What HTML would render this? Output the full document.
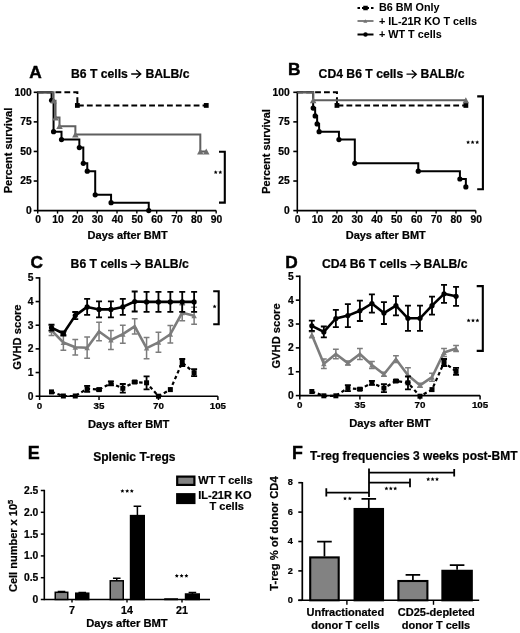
<!DOCTYPE html>
<html><head><meta charset="utf-8"><style>
html,body{margin:0;padding:0;background:#fff;font-family:"Liberation Sans",sans-serif;}
body{width:520px;height:633px;overflow:hidden;}
svg{display:block;will-change:transform;}
</style></head><body>
<svg width="520" height="633" viewBox="0 0 520 633" font-family="Liberation Sans, sans-serif" font-weight="bold" fill="#000">
<style>text{font-family:"Liberation Sans",sans-serif;font-weight:bold;stroke:#000;stroke-width:0.22px;}</style>
<rect width="520" height="633" fill="#fff"/>
<line x1="357.5" y1="8.0" x2="373.5" y2="8.0" stroke="#000" stroke-width="2" stroke-dasharray="2.5,2"/>
<rect x="363.25" y="5.75" width="4.5" height="4.5" fill="#000"/>
<line x1="357.5" y1="21" x2="373.5" y2="21" stroke="#737373" stroke-width="1.8" />
<path d="M363.3,22.8 L367.3,22.8 L365.3,19.2 Z" fill="#737373"/>
<line x1="357.5" y1="34.5" x2="373.5" y2="34.5" stroke="#000" stroke-width="2" />
<circle cx="365.5" cy="34.5" r="2.2" fill="#000"/>
<text x="379" y="11.2" font-size="10.8" text-anchor="start" style="stroke-width:0.05px">B6 BM Only</text>
<text x="379" y="24.9" font-size="10.8" text-anchor="start" style="stroke-width:0.05px">+ IL-21R KO T cells</text>
<text x="379" y="37.6" font-size="10.8" text-anchor="start" style="stroke-width:0.05px">+ WT T cells</text>
<text x="29.2" y="78.2" font-size="17.3" text-anchor="start" style="stroke-width:0.45px">A</text>
<text x="71.0" y="77.7" font-size="12.2" text-anchor="start" >B6 T cells</text>
<path d="M131.2,74.0 H140.4 M136.3,70.0 L140.8,74.0 L136.3,78.0" fill="none" stroke="#000" stroke-width="1.3"/>
<text x="145.4" y="77.7" font-size="12.2" text-anchor="start" >BALB/c</text>
<line x1="37.7" y1="91.6" x2="37.7" y2="211.29999999999998" stroke="#000" stroke-width="1.6" />
<line x1="33.7" y1="92.3" x2="37.7" y2="92.3" stroke="#000" stroke-width="1.6" />
<text x="31.700000000000003" y="95.7" font-size="10.3" text-anchor="end" >100</text>
<line x1="33.7" y1="121.875" x2="37.7" y2="121.875" stroke="#000" stroke-width="1.6" />
<text x="31.700000000000003" y="125.275" font-size="10.3" text-anchor="end" >75</text>
<line x1="33.7" y1="151.45" x2="37.7" y2="151.45" stroke="#000" stroke-width="1.6" />
<text x="31.700000000000003" y="154.85" font-size="10.3" text-anchor="end" >50</text>
<line x1="33.7" y1="181.02499999999998" x2="37.7" y2="181.02499999999998" stroke="#000" stroke-width="1.6" />
<text x="31.700000000000003" y="184.42499999999998" font-size="10.3" text-anchor="end" >25</text>
<line x1="33.7" y1="210.6" x2="37.7" y2="210.6" stroke="#000" stroke-width="1.6" />
<text x="31.700000000000003" y="214.0" font-size="10.3" text-anchor="end" >0</text>
<line x1="37.7" y1="210.6" x2="216.17000000000002" y2="210.6" stroke="#000" stroke-width="1.6" />
<line x1="37.7" y1="210.6" x2="37.7" y2="213.6" stroke="#000" stroke-width="1.4" />
<text x="38.1" y="222.79999999999998" font-size="10.3" text-anchor="middle" >0</text>
<line x1="57.53" y1="210.6" x2="57.53" y2="213.6" stroke="#000" stroke-width="1.4" />
<text x="57.93" y="222.79999999999998" font-size="10.3" text-anchor="middle" >10</text>
<line x1="77.36000000000001" y1="210.6" x2="77.36000000000001" y2="213.6" stroke="#000" stroke-width="1.4" />
<text x="77.76000000000002" y="222.79999999999998" font-size="10.3" text-anchor="middle" >20</text>
<line x1="97.19" y1="210.6" x2="97.19" y2="213.6" stroke="#000" stroke-width="1.4" />
<text x="97.59" y="222.79999999999998" font-size="10.3" text-anchor="middle" >30</text>
<line x1="117.02000000000001" y1="210.6" x2="117.02000000000001" y2="213.6" stroke="#000" stroke-width="1.4" />
<text x="117.42000000000002" y="222.79999999999998" font-size="10.3" text-anchor="middle" >40</text>
<line x1="136.85000000000002" y1="210.6" x2="136.85000000000002" y2="213.6" stroke="#000" stroke-width="1.4" />
<text x="137.25000000000003" y="222.79999999999998" font-size="10.3" text-anchor="middle" >50</text>
<line x1="156.68" y1="210.6" x2="156.68" y2="213.6" stroke="#000" stroke-width="1.4" />
<text x="157.08" y="222.79999999999998" font-size="10.3" text-anchor="middle" >60</text>
<line x1="176.51" y1="210.6" x2="176.51" y2="213.6" stroke="#000" stroke-width="1.4" />
<text x="176.91" y="222.79999999999998" font-size="10.3" text-anchor="middle" >70</text>
<line x1="196.34000000000003" y1="210.6" x2="196.34000000000003" y2="213.6" stroke="#000" stroke-width="1.4" />
<text x="196.74000000000004" y="222.79999999999998" font-size="10.3" text-anchor="middle" >80</text>
<line x1="216.17000000000002" y1="210.6" x2="216.17000000000002" y2="213.6" stroke="#000" stroke-width="1.4" />
<text x="216.57000000000002" y="222.79999999999998" font-size="10.3" text-anchor="middle" >90</text>
<text transform="translate(12.300000000000004,150.5) rotate(-90)" font-size="11.1" text-anchor="middle">Percent survival</text>
<text x="127.63499999999999" y="239.2" font-size="11.0" text-anchor="middle" >Days after BMT</text>
<path d="M37.7,92.3 H51.58 V100.23 H53.56 V131.69 H61.50 V139.62 H79.34 V147.55 H83.31 V163.28 H87.28 V171.21 H95.21 V194.87 H111.07 V202.71 H148.75 V210.60" fill="none" stroke="#000" stroke-width="2.0"/>
<circle cx="51.581" cy="100.2261" r="2.6" fill="#000"/>
<circle cx="53.56400000000001" cy="131.69389999999999" r="2.6" fill="#000"/>
<circle cx="61.496" cy="139.62" r="2.6" fill="#000"/>
<circle cx="79.343" cy="147.5461" r="2.6" fill="#000"/>
<circle cx="83.309" cy="163.28" r="2.6" fill="#000"/>
<circle cx="87.275" cy="171.2061" r="2.6" fill="#000"/>
<circle cx="95.20700000000001" cy="194.86610000000002" r="2.6" fill="#000"/>
<circle cx="111.07100000000001" cy="202.70938999999998" r="2.6" fill="#000"/>
<circle cx="148.748" cy="210.6" r="2.6" fill="#000"/>
<path d="M37.7,92.3 H77.36 V105.43 H206.25 V105.43" fill="none" stroke="#000" stroke-width="2.0" stroke-dasharray="5.8,3.1"/>
<rect x="74.96000000000001" y="103.03129999999999" width="4.8" height="4.8" fill="#000"/>
<rect x="203.855" y="103.03129999999999" width="4.8" height="4.8" fill="#000"/>
<path d="M37.7,92.3 H53.56 V100.70 H55.55 V117.62 H59.51 V126.13 H75.38 V134.53 H200.31 V151.45 H206.25 V151.45" fill="none" stroke="#5f5f5f" stroke-width="2.0"/>
<path d="M50.31400000000001,103.62429999999999 L56.81400000000001,103.62429999999999 L53.56400000000001,97.7743 Z" fill="#6e6e6e"/>
<path d="M52.297000000000004,120.5412 L58.797000000000004,120.5412 L55.547000000000004,114.69120000000001 Z" fill="#6e6e6e"/>
<path d="M56.263000000000005,129.0588 L62.763000000000005,129.0588 L59.513000000000005,123.20879999999998 Z" fill="#6e6e6e"/>
<path d="M72.12700000000001,137.4581 L78.62700000000001,137.4581 L75.37700000000001,131.60809999999998 Z" fill="#6e6e6e"/>
<path d="M197.05599999999998,154.375 L203.55599999999998,154.375 L200.30599999999998,148.52499999999998 Z" fill="#6e6e6e"/>
<path d="M203.005,154.375 L209.505,154.375 L206.255,148.52499999999998 Z" fill="#6e6e6e"/>
<line x1="37.7" y1="92.3" x2="51.581" y2="92.3" stroke="#4a4a4a" stroke-width="2"/>
<path d="M219,151.8 H224.8 V202.6 H219" fill="none" stroke="#000" stroke-width="2.1"/>
<polygon points="215.70,170.20 216.29,171.49 217.70,171.65 216.65,172.61 216.93,174.00 215.70,173.30 214.47,174.00 214.75,172.61 213.70,171.65 215.11,171.49" fill="#000"/>
<polygon points="220.30,170.20 220.89,171.49 222.30,171.65 221.25,172.61 221.53,174.00 220.30,173.30 219.07,174.00 219.35,172.61 218.30,171.65 219.71,171.49" fill="#000"/>
<text x="288.0" y="74.6" font-size="17.3" text-anchor="start" style="stroke-width:0.45px">B</text>
<text x="318.6" y="77.9" font-size="12.2" text-anchor="start" >CD4 B6 T cells</text>
<path d="M406.5,74.2 H415.90000000000003 M411.8,70.2 L416.3,74.2 L411.8,78.2" fill="none" stroke="#000" stroke-width="1.3"/>
<text x="420.4" y="77.9" font-size="12.2" text-anchor="start" >BALB/c</text>
<line x1="297.3" y1="91.6" x2="297.3" y2="211.29999999999998" stroke="#000" stroke-width="1.6" />
<line x1="293.3" y1="92.3" x2="297.3" y2="92.3" stroke="#000" stroke-width="1.6" />
<text x="289.8" y="95.7" font-size="10.3" text-anchor="end" >100</text>
<line x1="293.3" y1="121.875" x2="297.3" y2="121.875" stroke="#000" stroke-width="1.6" />
<text x="289.8" y="125.275" font-size="10.3" text-anchor="end" >75</text>
<line x1="293.3" y1="151.45" x2="297.3" y2="151.45" stroke="#000" stroke-width="1.6" />
<text x="289.8" y="154.85" font-size="10.3" text-anchor="end" >50</text>
<line x1="293.3" y1="181.02499999999998" x2="297.3" y2="181.02499999999998" stroke="#000" stroke-width="1.6" />
<text x="289.8" y="184.42499999999998" font-size="10.3" text-anchor="end" >25</text>
<line x1="293.3" y1="210.6" x2="297.3" y2="210.6" stroke="#000" stroke-width="1.6" />
<text x="289.8" y="214.0" font-size="10.3" text-anchor="end" >0</text>
<line x1="297.3" y1="210.6" x2="475.77" y2="210.6" stroke="#000" stroke-width="1.6" />
<line x1="297.3" y1="210.6" x2="297.3" y2="213.6" stroke="#000" stroke-width="1.4" />
<text x="297.7" y="222.79999999999998" font-size="10.3" text-anchor="middle" >0</text>
<line x1="317.13" y1="210.6" x2="317.13" y2="213.6" stroke="#000" stroke-width="1.4" />
<text x="317.53" y="222.79999999999998" font-size="10.3" text-anchor="middle" >10</text>
<line x1="336.96000000000004" y1="210.6" x2="336.96000000000004" y2="213.6" stroke="#000" stroke-width="1.4" />
<text x="337.36" y="222.79999999999998" font-size="10.3" text-anchor="middle" >20</text>
<line x1="356.79" y1="210.6" x2="356.79" y2="213.6" stroke="#000" stroke-width="1.4" />
<text x="357.19" y="222.79999999999998" font-size="10.3" text-anchor="middle" >30</text>
<line x1="376.62" y1="210.6" x2="376.62" y2="213.6" stroke="#000" stroke-width="1.4" />
<text x="377.02" y="222.79999999999998" font-size="10.3" text-anchor="middle" >40</text>
<line x1="396.45000000000005" y1="210.6" x2="396.45000000000005" y2="213.6" stroke="#000" stroke-width="1.4" />
<text x="396.85" y="222.79999999999998" font-size="10.3" text-anchor="middle" >50</text>
<line x1="416.28000000000003" y1="210.6" x2="416.28000000000003" y2="213.6" stroke="#000" stroke-width="1.4" />
<text x="416.68" y="222.79999999999998" font-size="10.3" text-anchor="middle" >60</text>
<line x1="436.11" y1="210.6" x2="436.11" y2="213.6" stroke="#000" stroke-width="1.4" />
<text x="436.51" y="222.79999999999998" font-size="10.3" text-anchor="middle" >70</text>
<line x1="455.94000000000005" y1="210.6" x2="455.94000000000005" y2="213.6" stroke="#000" stroke-width="1.4" />
<text x="456.34000000000003" y="222.79999999999998" font-size="10.3" text-anchor="middle" >80</text>
<line x1="475.77" y1="210.6" x2="475.77" y2="213.6" stroke="#000" stroke-width="1.4" />
<text x="476.16999999999996" y="222.79999999999998" font-size="10.3" text-anchor="middle" >90</text>
<text transform="translate(269.7,151.5) rotate(-90)" font-size="10.95" text-anchor="middle">Percent survival</text>
<text x="385.73500000000007" y="239.2" font-size="11.0" text-anchor="middle" >Days after BMT</text>
<path d="M297.3,92.3 H313.16 V108.03 H315.15 V115.96 H317.13 V123.89 H319.11 V131.69 H338.94 V139.62 H354.81 V163.28 H418.26 V171.21 H459.91 V179.01 H465.86 V186.94" fill="none" stroke="#000" stroke-width="2.0"/>
<circle cx="313.164" cy="108.03389999999999" r="2.6" fill="#000"/>
<circle cx="315.147" cy="115.96" r="2.6" fill="#000"/>
<circle cx="317.13" cy="123.8861" r="2.6" fill="#000"/>
<circle cx="319.113" cy="131.69389999999999" r="2.6" fill="#000"/>
<circle cx="338.943" cy="139.62" r="2.6" fill="#000"/>
<circle cx="354.807" cy="163.28" r="2.6" fill="#000"/>
<circle cx="418.26300000000003" cy="171.2061" r="2.6" fill="#000"/>
<circle cx="459.906" cy="179.01389999999998" r="2.6" fill="#000"/>
<circle cx="465.855" cy="186.94" r="2.6" fill="#000"/>
<path d="M297.3,92.3 H336.96 V105.43 H465.86 V105.43" fill="none" stroke="#000" stroke-width="2.0" stroke-dasharray="5.8,3.1"/>
<rect x="334.56000000000006" y="103.03129999999999" width="4.8" height="4.8" fill="#000"/>
<rect x="463.45500000000004" y="103.03129999999999" width="4.8" height="4.8" fill="#000"/>
<path d="M297.3,92.3 H313.16 V100.23 H465.86 V100.23" fill="none" stroke="#5f5f5f" stroke-width="2.0"/>
<path d="M309.914,103.1511 L316.414,103.1511 L313.164,97.3011 Z" fill="#6e6e6e"/>
<path d="M462.605,103.1511 L469.105,103.1511 L465.855,97.3011 Z" fill="#6e6e6e"/>
<path d="M477.2,96.4 H482.9 V189.2 H477.2" fill="none" stroke="#000" stroke-width="2.1"/>
<polygon points="468.10,140.20 468.69,141.49 470.10,141.65 469.05,142.61 469.33,144.00 468.10,143.30 466.87,144.00 467.15,142.61 466.10,141.65 467.51,141.49" fill="#000"/>
<polygon points="472.60,140.20 473.19,141.49 474.60,141.65 473.55,142.61 473.83,144.00 472.60,143.30 471.37,144.00 471.65,142.61 470.60,141.65 472.01,141.49" fill="#000"/>
<polygon points="477.20,140.20 477.79,141.49 479.20,141.65 478.15,142.61 478.43,144.00 477.20,143.30 475.97,144.00 476.25,142.61 475.20,141.65 476.61,141.49" fill="#000"/>
<text x="30.4" y="267.6" font-size="17.3" text-anchor="start" style="stroke-width:0.45px">C</text>
<text x="70.6" y="268.09999999999997" font-size="12.2" text-anchor="start" >B6 T cells</text>
<path d="M130.5,264.4 H139.79999999999998 M135.7,260.4 L140.2,264.4 L135.7,268.4" fill="none" stroke="#000" stroke-width="1.3"/>
<text x="144.8" y="268.09999999999997" font-size="12.2" text-anchor="start" >BALB/c</text>
<line x1="39.6" y1="277.2" x2="39.6" y2="396.9" stroke="#000" stroke-width="1.6" />
<line x1="35.6" y1="396.2" x2="39.6" y2="396.2" stroke="#000" stroke-width="1.6" />
<text x="33.6" y="399.59999999999997" font-size="10.3" text-anchor="end" >0</text>
<line x1="35.6" y1="372.53999999999996" x2="39.6" y2="372.53999999999996" stroke="#000" stroke-width="1.6" />
<text x="33.6" y="375.93999999999994" font-size="10.3" text-anchor="end" >1</text>
<line x1="35.6" y1="348.88" x2="39.6" y2="348.88" stroke="#000" stroke-width="1.6" />
<text x="33.6" y="352.28" font-size="10.3" text-anchor="end" >2</text>
<line x1="35.6" y1="325.21999999999997" x2="39.6" y2="325.21999999999997" stroke="#000" stroke-width="1.6" />
<text x="33.6" y="328.61999999999995" font-size="10.3" text-anchor="end" >3</text>
<line x1="35.6" y1="301.56" x2="39.6" y2="301.56" stroke="#000" stroke-width="1.6" />
<text x="33.6" y="304.96" font-size="10.3" text-anchor="end" >4</text>
<line x1="35.6" y1="277.9" x2="39.6" y2="277.9" stroke="#000" stroke-width="1.6" />
<text x="33.6" y="281.29999999999995" font-size="10.3" text-anchor="end" >5</text>
<line x1="39.6" y1="396.2" x2="217.89" y2="396.2" stroke="#000" stroke-width="1.6" />
<line x1="39.6" y1="396.2" x2="39.6" y2="400.0" stroke="#000" stroke-width="1.5" />
<text x="39.6" y="409.0" font-size="9.8" text-anchor="middle" >0</text>
<line x1="99.03" y1="396.2" x2="99.03" y2="400.0" stroke="#000" stroke-width="1.5" />
<text x="99.03" y="409.0" font-size="9.8" text-anchor="middle" >35</text>
<line x1="158.46" y1="396.2" x2="158.46" y2="400.0" stroke="#000" stroke-width="1.5" />
<text x="158.46" y="409.0" font-size="9.8" text-anchor="middle" >70</text>
<line x1="217.89" y1="396.2" x2="217.89" y2="400.0" stroke="#000" stroke-width="1.5" />
<text x="217.89" y="409.0" font-size="9.8" text-anchor="middle" >105</text>
<text transform="translate(20.700000000000003,337.04999999999995) rotate(-90)" font-size="11.2" text-anchor="middle">GVHD score</text>
<text x="128.745" y="427.7" font-size="11.2" text-anchor="middle" >Days after BMT</text>
<path d="M48.586000000000006,325.4 H54.386 M51.486000000000004,325.4 V335.4 M48.586000000000006,335.4 H54.386" fill="none" stroke="#7c7c7c" stroke-width="1.5"/>
<path d="M60.472,334.8 H66.272 M63.372,334.8 V350.2 M60.472,350.2 H66.272" fill="none" stroke="#7c7c7c" stroke-width="1.5"/>
<path d="M72.358,339.6 H78.15800000000002 M75.25800000000001,339.6 V355.0 M72.358,355.0 H78.15800000000002" fill="none" stroke="#7c7c7c" stroke-width="1.5"/>
<path d="M84.244,337.09999999999997 H90.04400000000001 M87.144,337.09999999999997 V358.3 M84.244,358.3 H90.04400000000001" fill="none" stroke="#7c7c7c" stroke-width="1.5"/>
<path d="M96.13,322.3 H101.93 M99.03,322.3 V340.7 M96.13,340.7 H101.93" fill="none" stroke="#7c7c7c" stroke-width="1.5"/>
<path d="M108.01599999999999,330.4 H113.816 M110.916,330.4 V349.6 M108.01599999999999,349.6 H113.816" fill="none" stroke="#7c7c7c" stroke-width="1.5"/>
<path d="M119.90199999999999,325.2 H125.702 M122.80199999999999,325.2 V343.2 M119.90199999999999,343.2 H125.702" fill="none" stroke="#7c7c7c" stroke-width="1.5"/>
<path d="M131.78799999999998,318.79999999999995 H137.588 M134.688,318.79999999999995 V334.0 M131.78799999999998,334.0 H137.588" fill="none" stroke="#7c7c7c" stroke-width="1.5"/>
<path d="M143.674,337.40000000000003 H149.47400000000002 M146.574,337.40000000000003 V358.8 M143.674,358.8 H149.47400000000002" fill="none" stroke="#7c7c7c" stroke-width="1.5"/>
<path d="M155.56,332.3 H161.36 M158.46,332.3 V352.3 M155.56,352.3 H161.36" fill="none" stroke="#7c7c7c" stroke-width="1.5"/>
<path d="M167.446,325.4 H173.246 M170.346,325.4 V343.0 M167.446,343.0 H173.246" fill="none" stroke="#7c7c7c" stroke-width="1.5"/>
<path d="M179.332,304.7 H185.132 M182.232,304.7 V320.7 M179.332,320.7 H185.132" fill="none" stroke="#7c7c7c" stroke-width="1.5"/>
<path d="M191.218,307.3 H197.018 M194.118,307.3 V324.3 M191.218,324.3 H197.018" fill="none" stroke="#7c7c7c" stroke-width="1.5"/>
<polyline points="51.49,330.40 63.37,342.50 75.26,347.30 87.14,347.70 99.03,331.50 110.92,340.00 122.80,334.20 134.69,326.40 146.57,348.10 158.46,342.30 170.35,334.20 182.23,312.70 194.12,315.80" fill="none" stroke="#7c7c7c" stroke-width="2.6" stroke-linejoin="round" />
<path d="M48.736000000000004,332.875 L54.236000000000004,332.875 L51.486000000000004,327.92499999999995 Z" fill="#7c7c7c"/>
<path d="M60.622,344.975 L66.122,344.975 L63.372,340.025 Z" fill="#7c7c7c"/>
<path d="M72.50800000000001,349.77500000000003 L78.00800000000001,349.77500000000003 L75.25800000000001,344.825 Z" fill="#7c7c7c"/>
<path d="M84.394,350.175 L89.894,350.175 L87.144,345.22499999999997 Z" fill="#7c7c7c"/>
<path d="M96.28,333.975 L101.78,333.975 L99.03,329.025 Z" fill="#7c7c7c"/>
<path d="M108.166,342.475 L113.666,342.475 L110.916,337.525 Z" fill="#7c7c7c"/>
<path d="M120.05199999999999,336.675 L125.55199999999999,336.675 L122.80199999999999,331.72499999999997 Z" fill="#7c7c7c"/>
<path d="M131.938,328.875 L137.438,328.875 L134.688,323.92499999999995 Z" fill="#7c7c7c"/>
<path d="M143.824,350.57500000000005 L149.324,350.57500000000005 L146.574,345.625 Z" fill="#7c7c7c"/>
<path d="M155.71,344.77500000000003 L161.21,344.77500000000003 L158.46,339.825 Z" fill="#7c7c7c"/>
<path d="M167.596,336.675 L173.096,336.675 L170.346,331.72499999999997 Z" fill="#7c7c7c"/>
<path d="M179.482,315.175 L184.982,315.175 L182.232,310.22499999999997 Z" fill="#7c7c7c"/>
<path d="M191.368,318.27500000000003 L196.868,318.27500000000003 L194.118,313.325 Z" fill="#7c7c7c"/>
<path d="M84.144,385.8 H90.144 M87.144,385.8 V391.8 M84.144,391.8 H90.144" fill="none" stroke="#000" stroke-width="1.8"/>
<path d="M96.03,388.6 H102.03 M99.03,388.6 V390.6 M96.03,390.6 H102.03" fill="none" stroke="#000" stroke-width="1.8"/>
<path d="M107.916,381.3 H113.916 M110.916,381.3 V385.3 M107.916,385.3 H113.916" fill="none" stroke="#000" stroke-width="1.8"/>
<path d="M119.80199999999999,384.0 H125.80199999999999 M122.80199999999999,384.0 V392.6 M119.80199999999999,392.6 H125.80199999999999" fill="none" stroke="#000" stroke-width="1.8"/>
<path d="M131.688,381 H137.688 M134.688,381 V383 M131.688,383 H137.688" fill="none" stroke="#000" stroke-width="1.8"/>
<path d="M143.574,376.3 H149.574 M146.574,376.3 V389.3 M143.574,389.3 H149.574" fill="none" stroke="#000" stroke-width="1.8"/>
<path d="M179.232,359.0 H185.232 M182.232,359.0 V366.0 M179.232,366.0 H185.232" fill="none" stroke="#000" stroke-width="1.8"/>
<path d="M191.118,369.2 H197.118 M194.118,369.2 V376.2 M191.118,376.2 H197.118" fill="none" stroke="#000" stroke-width="1.8"/>
<polyline points="51.49,391.90 63.37,396.00 75.26,396.00 87.14,388.80 99.03,389.60 110.92,383.30 122.80,388.30 134.69,382.00 146.57,382.80 158.46,396.20 170.35,389.60 182.23,362.50 194.12,372.70" fill="none" stroke="#000" stroke-width="2.2" stroke-linejoin="round" stroke-dasharray="3.5,2.8"/>
<rect x="48.986000000000004" y="389.4" width="5.0" height="5.0" fill="#000"/>
<rect x="60.872" y="393.5" width="5.0" height="5.0" fill="#000"/>
<rect x="72.75800000000001" y="393.5" width="5.0" height="5.0" fill="#000"/>
<rect x="84.644" y="386.3" width="5.0" height="5.0" fill="#000"/>
<rect x="96.53" y="387.1" width="5.0" height="5.0" fill="#000"/>
<rect x="108.416" y="380.8" width="5.0" height="5.0" fill="#000"/>
<rect x="120.30199999999999" y="385.8" width="5.0" height="5.0" fill="#000"/>
<rect x="132.188" y="379.5" width="5.0" height="5.0" fill="#000"/>
<rect x="144.074" y="380.3" width="5.0" height="5.0" fill="#000"/>
<rect x="155.96" y="393.7" width="5.0" height="5.0" fill="#000"/>
<rect x="167.846" y="387.1" width="5.0" height="5.0" fill="#000"/>
<rect x="179.732" y="360.0" width="5.0" height="5.0" fill="#000"/>
<rect x="191.618" y="370.2" width="5.0" height="5.0" fill="#000"/>
<path d="M48.486000000000004,324.7 H54.486000000000004 M51.486000000000004,324.7 V330.7 M48.486000000000004,330.7 H54.486000000000004" fill="none" stroke="#000" stroke-width="1.8"/>
<path d="M60.372,331.5 H66.372 M63.372,331.5 V335.5 M60.372,335.5 H66.372" fill="none" stroke="#000" stroke-width="1.8"/>
<path d="M72.25800000000001,312.0 H78.25800000000001 M75.25800000000001,312.0 V319.20000000000005 M72.25800000000001,319.20000000000005 H78.25800000000001" fill="none" stroke="#000" stroke-width="1.8"/>
<path d="M84.144,298.9 H90.144 M87.144,298.9 V314.9 M84.144,314.9 H90.144" fill="none" stroke="#000" stroke-width="1.8"/>
<path d="M96.03,301.4 H102.03 M99.03,301.4 V317.4 M96.03,317.4 H102.03" fill="none" stroke="#000" stroke-width="1.8"/>
<path d="M107.916,301.4 H113.916 M110.916,301.4 V317.4 M107.916,317.4 H113.916" fill="none" stroke="#000" stroke-width="1.8"/>
<path d="M119.80199999999999,298.9 H125.80199999999999 M122.80199999999999,298.9 V314.9 M119.80199999999999,314.9 H125.80199999999999" fill="none" stroke="#000" stroke-width="1.8"/>
<path d="M131.688,291.5 H137.688 M134.688,291.5 V311.5 M131.688,311.5 H137.688" fill="none" stroke="#000" stroke-width="1.8"/>
<path d="M143.574,291.9 H149.574 M146.574,291.9 V311.9 M143.574,311.9 H149.574" fill="none" stroke="#000" stroke-width="1.8"/>
<path d="M155.46,291.9 H161.46 M158.46,291.9 V311.9 M155.46,311.9 H161.46" fill="none" stroke="#000" stroke-width="1.8"/>
<path d="M167.346,291.9 H173.346 M170.346,291.9 V311.9 M167.346,311.9 H173.346" fill="none" stroke="#000" stroke-width="1.8"/>
<path d="M179.232,291.9 H185.232 M182.232,291.9 V311.9 M179.232,311.9 H185.232" fill="none" stroke="#000" stroke-width="1.8"/>
<path d="M191.118,291.9 H197.118 M194.118,291.9 V311.9 M191.118,311.9 H197.118" fill="none" stroke="#000" stroke-width="1.8"/>
<polyline points="51.49,327.70 63.37,333.50 75.26,315.60 87.14,306.90 99.03,309.40 110.92,309.40 122.80,306.90 134.69,301.50 146.57,301.90 158.46,301.90 170.35,301.90 182.23,301.90 194.12,301.90" fill="none" stroke="#000" stroke-width="2.6" stroke-linejoin="round" />
<circle cx="51.486000000000004" cy="327.7" r="2.6" fill="#000"/>
<circle cx="63.372" cy="333.5" r="2.6" fill="#000"/>
<circle cx="75.25800000000001" cy="315.6" r="2.6" fill="#000"/>
<circle cx="87.144" cy="306.9" r="2.6" fill="#000"/>
<circle cx="99.03" cy="309.4" r="2.6" fill="#000"/>
<circle cx="110.916" cy="309.4" r="2.6" fill="#000"/>
<circle cx="122.80199999999999" cy="306.9" r="2.6" fill="#000"/>
<circle cx="134.688" cy="301.5" r="2.6" fill="#000"/>
<circle cx="146.574" cy="301.9" r="2.6" fill="#000"/>
<circle cx="158.46" cy="301.9" r="2.6" fill="#000"/>
<circle cx="170.346" cy="301.9" r="2.6" fill="#000"/>
<circle cx="182.232" cy="301.9" r="2.6" fill="#000"/>
<circle cx="194.118" cy="301.9" r="2.6" fill="#000"/>
<path d="M213.2,291.3 H218.7 V324.3 H213.2" fill="none" stroke="#000" stroke-width="2.1"/>
<polygon points="214.60,304.40 215.19,305.69 216.60,305.85 215.55,306.81 215.83,308.20 214.60,307.50 213.37,308.20 213.65,306.81 212.60,305.85 214.01,305.69" fill="#000"/>
<text x="285.2" y="267.6" font-size="17.3" text-anchor="start" style="stroke-width:0.45px">D</text>
<text x="322.0" y="268.4" font-size="12.2" text-anchor="start" >CD4 B6 T cells</text>
<path d="M410.4,264.7 H419.8 M415.7,260.7 L420.2,264.7 L415.7,268.7" fill="none" stroke="#000" stroke-width="1.3"/>
<text x="423.4" y="268.4" font-size="12.2" text-anchor="start" >BALB/c</text>
<line x1="299.8" y1="275.6" x2="299.8" y2="396.3" stroke="#000" stroke-width="1.6" />
<line x1="295.8" y1="395.6" x2="299.8" y2="395.6" stroke="#000" stroke-width="1.6" />
<text x="293.8" y="399.0" font-size="10.3" text-anchor="end" >0</text>
<line x1="295.8" y1="371.74" x2="299.8" y2="371.74" stroke="#000" stroke-width="1.6" />
<text x="293.8" y="375.14" font-size="10.3" text-anchor="end" >1</text>
<line x1="295.8" y1="347.88" x2="299.8" y2="347.88" stroke="#000" stroke-width="1.6" />
<text x="293.8" y="351.28" font-size="10.3" text-anchor="end" >2</text>
<line x1="295.8" y1="324.02000000000004" x2="299.8" y2="324.02000000000004" stroke="#000" stroke-width="1.6" />
<text x="293.8" y="327.42" font-size="10.3" text-anchor="end" >3</text>
<line x1="295.8" y1="300.16" x2="299.8" y2="300.16" stroke="#000" stroke-width="1.6" />
<text x="293.8" y="303.56" font-size="10.3" text-anchor="end" >4</text>
<line x1="295.8" y1="276.3" x2="299.8" y2="276.3" stroke="#000" stroke-width="1.6" />
<text x="293.8" y="279.7" font-size="10.3" text-anchor="end" >5</text>
<line x1="299.8" y1="395.6" x2="480.08500000000004" y2="395.6" stroke="#000" stroke-width="1.6" />
<line x1="299.8" y1="395.6" x2="299.8" y2="399.40000000000003" stroke="#000" stroke-width="1.5" />
<text x="299.8" y="408.40000000000003" font-size="9.8" text-anchor="middle" >0</text>
<line x1="359.89500000000004" y1="395.6" x2="359.89500000000004" y2="399.40000000000003" stroke="#000" stroke-width="1.5" />
<text x="359.89500000000004" y="408.40000000000003" font-size="9.8" text-anchor="middle" >35</text>
<line x1="419.99" y1="395.6" x2="419.99" y2="399.40000000000003" stroke="#000" stroke-width="1.5" />
<text x="419.99" y="408.40000000000003" font-size="9.8" text-anchor="middle" >70</text>
<line x1="480.08500000000004" y1="395.6" x2="480.08500000000004" y2="399.40000000000003" stroke="#000" stroke-width="1.5" />
<text x="480.08500000000004" y="408.40000000000003" font-size="9.8" text-anchor="middle" >105</text>
<text transform="translate(279.90000000000003,335.95000000000005) rotate(-90)" font-size="11.2" text-anchor="middle">GVHD score</text>
<text x="389.9425" y="427.1" font-size="11.2" text-anchor="middle" >Days after BMT</text>
<path d="M308.91900000000004,331.8 H314.719 M311.819,331.8 V337.8 M308.91900000000004,337.8 H314.719" fill="none" stroke="#7c7c7c" stroke-width="1.5"/>
<path d="M320.93800000000005,358.9 H326.738 M323.838,358.9 V368.5 M320.93800000000005,368.5 H326.738" fill="none" stroke="#7c7c7c" stroke-width="1.5"/>
<path d="M332.95700000000005,349.2 H338.757 M335.857,349.2 V358.8 M332.95700000000005,358.8 H338.757" fill="none" stroke="#7c7c7c" stroke-width="1.5"/>
<path d="M344.97600000000006,361.1 H350.776 M347.87600000000003,361.1 V365.1 M344.97600000000006,365.1 H350.776" fill="none" stroke="#7c7c7c" stroke-width="1.5"/>
<path d="M356.99500000000006,348.4 H362.795 M359.89500000000004,348.4 V359.6 M356.99500000000006,359.6 H362.795" fill="none" stroke="#7c7c7c" stroke-width="1.5"/>
<path d="M369.014,361.4 H374.81399999999996 M371.914,361.4 V368.6 M369.014,368.6 H374.81399999999996" fill="none" stroke="#7c7c7c" stroke-width="1.5"/>
<path d="M381.033,372.2 H386.83299999999997 M383.933,372.2 V376.2 M381.033,376.2 H386.83299999999997" fill="none" stroke="#7c7c7c" stroke-width="1.5"/>
<path d="M393.052,355.8 H398.852 M395.952,355.8 V362.59999999999997 M393.052,362.59999999999997 H398.852" fill="none" stroke="#7c7c7c" stroke-width="1.5"/>
<path d="M405.071,367.7 H410.871 M407.971,367.7 V382.7 M405.071,382.7 H410.871" fill="none" stroke="#7c7c7c" stroke-width="1.5"/>
<path d="M417.09000000000003,383.3 H422.89 M419.99,383.3 V387.3 M417.09000000000003,387.3 H422.89" fill="none" stroke="#7c7c7c" stroke-width="1.5"/>
<path d="M429.10900000000004,373.2 H434.909 M432.009,373.2 V381.2 M429.10900000000004,381.2 H434.909" fill="none" stroke="#7c7c7c" stroke-width="1.5"/>
<path d="M441.12800000000004,348.4 H446.928 M444.028,348.4 V356.4 M441.12800000000004,356.4 H446.928" fill="none" stroke="#7c7c7c" stroke-width="1.5"/>
<path d="M453.14700000000005,345.6 H458.947 M456.047,345.6 V351.6 M453.14700000000005,351.6 H458.947" fill="none" stroke="#7c7c7c" stroke-width="1.5"/>
<polyline points="311.82,334.80 323.84,363.70 335.86,354.00 347.88,363.10 359.90,354.00 371.91,365.00 383.93,374.20 395.95,359.20 407.97,375.20 419.99,385.30 432.01,377.20 444.03,352.40 456.05,348.60" fill="none" stroke="#7c7c7c" stroke-width="2.6" stroke-linejoin="round" />
<path d="M309.069,337.27500000000003 L314.569,337.27500000000003 L311.819,332.325 Z" fill="#7c7c7c"/>
<path d="M321.088,366.175 L326.588,366.175 L323.838,361.22499999999997 Z" fill="#7c7c7c"/>
<path d="M333.107,356.475 L338.607,356.475 L335.857,351.525 Z" fill="#7c7c7c"/>
<path d="M345.12600000000003,365.57500000000005 L350.62600000000003,365.57500000000005 L347.87600000000003,360.625 Z" fill="#7c7c7c"/>
<path d="M357.14500000000004,356.475 L362.64500000000004,356.475 L359.89500000000004,351.525 Z" fill="#7c7c7c"/>
<path d="M369.164,367.475 L374.664,367.475 L371.914,362.525 Z" fill="#7c7c7c"/>
<path d="M381.183,376.675 L386.683,376.675 L383.933,371.72499999999997 Z" fill="#7c7c7c"/>
<path d="M393.202,361.675 L398.702,361.675 L395.952,356.72499999999997 Z" fill="#7c7c7c"/>
<path d="M405.221,377.675 L410.721,377.675 L407.971,372.72499999999997 Z" fill="#7c7c7c"/>
<path d="M417.24,387.77500000000003 L422.74,387.77500000000003 L419.99,382.825 Z" fill="#7c7c7c"/>
<path d="M429.259,379.675 L434.759,379.675 L432.009,374.72499999999997 Z" fill="#7c7c7c"/>
<path d="M441.278,354.875 L446.778,354.875 L444.028,349.92499999999995 Z" fill="#7c7c7c"/>
<path d="M453.297,351.07500000000005 L458.797,351.07500000000005 L456.047,346.125 Z" fill="#7c7c7c"/>
<path d="M344.87600000000003,385.1 H350.87600000000003 M347.87600000000003,385.1 V391.1 M344.87600000000003,391.1 H350.87600000000003" fill="none" stroke="#000" stroke-width="1.8"/>
<path d="M356.89500000000004,388.2 H362.89500000000004 M359.89500000000004,388.2 V390.2 M356.89500000000004,390.2 H362.89500000000004" fill="none" stroke="#000" stroke-width="1.8"/>
<path d="M368.914,380.9 H374.914 M371.914,380.9 V384.9 M368.914,384.9 H374.914" fill="none" stroke="#000" stroke-width="1.8"/>
<path d="M380.933,384.1 H386.933 M383.933,384.1 V392.1 M380.933,392.1 H386.933" fill="none" stroke="#000" stroke-width="1.8"/>
<path d="M392.952,380 H398.952 M395.952,380 V382 M392.952,382 H398.952" fill="none" stroke="#000" stroke-width="1.8"/>
<path d="M404.971,376.3 H410.971 M407.971,376.3 V389.3 M404.971,389.3 H410.971" fill="none" stroke="#000" stroke-width="1.8"/>
<path d="M441.028,359.0 H447.028 M444.028,359.0 V366.0 M441.028,366.0 H447.028" fill="none" stroke="#000" stroke-width="1.8"/>
<path d="M453.047,367.9 H459.047 M456.047,367.9 V374.9 M453.047,374.9 H459.047" fill="none" stroke="#000" stroke-width="1.8"/>
<polyline points="311.82,391.50 323.84,395.80 335.86,395.80 347.88,388.10 359.90,389.20 371.91,382.90 383.93,388.10 395.95,381.00 407.97,382.80 419.99,396.20 432.01,389.60 444.03,362.50 456.05,371.40" fill="none" stroke="#000" stroke-width="2.2" stroke-linejoin="round" stroke-dasharray="3.5,2.8"/>
<rect x="309.319" y="389.0" width="5.0" height="5.0" fill="#000"/>
<rect x="321.338" y="393.3" width="5.0" height="5.0" fill="#000"/>
<rect x="333.357" y="393.3" width="5.0" height="5.0" fill="#000"/>
<rect x="345.37600000000003" y="385.6" width="5.0" height="5.0" fill="#000"/>
<rect x="357.39500000000004" y="386.7" width="5.0" height="5.0" fill="#000"/>
<rect x="369.414" y="380.4" width="5.0" height="5.0" fill="#000"/>
<rect x="381.433" y="385.6" width="5.0" height="5.0" fill="#000"/>
<rect x="393.452" y="378.5" width="5.0" height="5.0" fill="#000"/>
<rect x="405.471" y="380.3" width="5.0" height="5.0" fill="#000"/>
<rect x="417.49" y="393.7" width="5.0" height="5.0" fill="#000"/>
<rect x="429.509" y="387.1" width="5.0" height="5.0" fill="#000"/>
<rect x="441.528" y="360.0" width="5.0" height="5.0" fill="#000"/>
<rect x="453.547" y="368.9" width="5.0" height="5.0" fill="#000"/>
<path d="M308.819,320.7 H314.819 M311.819,320.7 V330.90000000000003 M308.819,330.90000000000003 H314.819" fill="none" stroke="#000" stroke-width="1.8"/>
<path d="M320.838,326.5 H326.838 M323.838,326.5 V337.29999999999995 M320.838,337.29999999999995 H326.838" fill="none" stroke="#000" stroke-width="1.8"/>
<path d="M332.857,309.8 H338.857 M335.857,309.8 V327.2 M332.857,327.2 H338.857" fill="none" stroke="#000" stroke-width="1.8"/>
<path d="M344.87600000000003,304.1 H350.87600000000003 M347.87600000000003,304.1 V327.1 M344.87600000000003,327.1 H350.87600000000003" fill="none" stroke="#000" stroke-width="1.8"/>
<path d="M356.89500000000004,300.6 H362.89500000000004 M359.89500000000004,300.6 V321.0 M356.89500000000004,321.0 H362.89500000000004" fill="none" stroke="#000" stroke-width="1.8"/>
<path d="M368.914,294.4 H374.914 M371.914,294.4 V312.6 M368.914,312.6 H374.914" fill="none" stroke="#000" stroke-width="1.8"/>
<path d="M380.933,302.20000000000005 H386.933 M383.933,302.20000000000005 V324.0 M380.933,324.0 H386.933" fill="none" stroke="#000" stroke-width="1.8"/>
<path d="M392.952,296.09999999999997 H398.952 M395.952,296.09999999999997 V315.3 M392.952,315.3 H398.952" fill="none" stroke="#000" stroke-width="1.8"/>
<path d="M404.971,305.7 H410.971 M407.971,305.7 V330.90000000000003 M404.971,330.90000000000003 H410.971" fill="none" stroke="#000" stroke-width="1.8"/>
<path d="M416.99,305.7 H422.99 M419.99,305.7 V330.90000000000003 M416.99,330.90000000000003 H422.99" fill="none" stroke="#000" stroke-width="1.8"/>
<path d="M429.009,296.7 H435.009 M432.009,296.7 V314.7 M429.009,314.7 H435.009" fill="none" stroke="#000" stroke-width="1.8"/>
<path d="M441.028,284.8 H447.028 M444.028,284.8 V302.8 M441.028,302.8 H447.028" fill="none" stroke="#000" stroke-width="1.8"/>
<path d="M453.047,286.8 H459.047 M456.047,286.8 V305.8 M453.047,305.8 H459.047" fill="none" stroke="#000" stroke-width="1.8"/>
<polyline points="311.82,325.80 323.84,331.90 335.86,318.50 347.88,315.60 359.90,310.80 371.91,303.50 383.93,313.10 395.95,305.70 407.97,318.30 419.99,318.30 432.01,305.70 444.03,293.80 456.05,296.30" fill="none" stroke="#000" stroke-width="2.6" stroke-linejoin="round" />
<circle cx="311.819" cy="325.8" r="2.6" fill="#000"/>
<circle cx="323.838" cy="331.9" r="2.6" fill="#000"/>
<circle cx="335.857" cy="318.5" r="2.6" fill="#000"/>
<circle cx="347.87600000000003" cy="315.6" r="2.6" fill="#000"/>
<circle cx="359.89500000000004" cy="310.8" r="2.6" fill="#000"/>
<circle cx="371.914" cy="303.5" r="2.6" fill="#000"/>
<circle cx="383.933" cy="313.1" r="2.6" fill="#000"/>
<circle cx="395.952" cy="305.7" r="2.6" fill="#000"/>
<circle cx="407.971" cy="318.3" r="2.6" fill="#000"/>
<circle cx="419.99" cy="318.3" r="2.6" fill="#000"/>
<circle cx="432.009" cy="305.7" r="2.6" fill="#000"/>
<circle cx="444.028" cy="293.8" r="2.6" fill="#000"/>
<circle cx="456.047" cy="296.3" r="2.6" fill="#000"/>
<path d="M476.7,286.1 H482.8 V350.9 H476.7" fill="none" stroke="#000" stroke-width="2.1"/>
<polygon points="468.60,318.40 469.19,319.69 470.60,319.85 469.55,320.81 469.83,322.20 468.60,321.50 467.37,322.20 467.65,320.81 466.60,319.85 468.01,319.69" fill="#000"/>
<polygon points="473.00,318.40 473.59,319.69 475.00,319.85 473.95,320.81 474.23,322.20 473.00,321.50 471.77,322.20 472.05,320.81 471.00,319.85 472.41,319.69" fill="#000"/>
<polygon points="477.40,318.40 477.99,319.69 479.40,319.85 478.35,320.81 478.63,322.20 477.40,321.50 476.17,322.20 476.45,320.81 475.40,319.85 476.81,319.69" fill="#000"/>
<text x="27.8" y="459.0" font-size="18.0" text-anchor="start" style="stroke-width:0.4px">E</text>
<text x="93.2" y="460.6" font-size="12.05" text-anchor="start" >Splenic T-regs</text>
<line x1="44.3" y1="489.8" x2="44.3" y2="600.2" stroke="#000" stroke-width="1.6" />
<line x1="40.8" y1="599.5" x2="44.3" y2="599.5" stroke="#000" stroke-width="1.5" />
<text x="38.3" y="602.9" font-size="10.3" text-anchor="end" >0</text>
<line x1="40.8" y1="577.7" x2="44.3" y2="577.7" stroke="#000" stroke-width="1.5" />
<text x="38.3" y="581.1" font-size="10.3" text-anchor="end" >0.5</text>
<line x1="40.8" y1="555.9" x2="44.3" y2="555.9" stroke="#000" stroke-width="1.5" />
<text x="38.3" y="559.3" font-size="10.3" text-anchor="end" >1.0</text>
<line x1="40.8" y1="534.1" x2="44.3" y2="534.1" stroke="#000" stroke-width="1.5" />
<text x="38.3" y="537.5" font-size="10.3" text-anchor="end" >1.5</text>
<line x1="40.8" y1="512.3" x2="44.3" y2="512.3" stroke="#000" stroke-width="1.5" />
<text x="38.3" y="515.6999999999999" font-size="10.3" text-anchor="end" >2.0</text>
<line x1="40.8" y1="490.5" x2="44.3" y2="490.5" stroke="#000" stroke-width="1.5" />
<text x="38.3" y="493.9" font-size="10.3" text-anchor="end" >2.5</text>
<line x1="44.3" y1="599.5" x2="210" y2="599.5" stroke="#000" stroke-width="1.6" />
<line x1="72" y1="599.5" x2="72" y2="602.5" stroke="#000" stroke-width="1.4" />
<text x="72" y="613.7" font-size="10.700000000000001" text-anchor="middle" >7</text>
<line x1="127" y1="599.5" x2="127" y2="602.5" stroke="#000" stroke-width="1.4" />
<text x="127" y="613.7" font-size="10.700000000000001" text-anchor="middle" >14</text>
<line x1="182" y1="599.5" x2="182" y2="602.5" stroke="#000" stroke-width="1.4" />
<text x="182" y="613.7" font-size="10.700000000000001" text-anchor="middle" >21</text>
<path d="M61.5,592.3 V591.5 M57.7,591.5 H65.3" stroke="#000" stroke-width="1.5" fill="none"/>
<rect x="55.25" y="592.3" width="12.5" height="7.2000000000000455" fill="#828282" stroke="#000" stroke-width="1.5"/>
<path d="M82.25,593.2 V592.5 M78.45,592.5 H86.05" stroke="#000" stroke-width="1.5" fill="none"/>
<rect x="75.75" y="593.2" width="13.0" height="6.2999999999999545" fill="#000" stroke="#000" stroke-width="1.5"/>
<path d="M116.75,580.8 V578.2 M112.95,578.2 H120.55" stroke="#000" stroke-width="1.5" fill="none"/>
<rect x="110.25" y="580.8" width="13.0" height="18.700000000000045" fill="#828282" stroke="#000" stroke-width="1.5"/>
<path d="M137.4,515.6 V506.2 M133.6,506.2 H141.20000000000002" stroke="#000" stroke-width="1.5" fill="none"/>
<rect x="130.55" y="515.6" width="13.699999999999989" height="83.89999999999998" fill="#000" stroke="#000" stroke-width="1.5"/>
<rect x="164.95" y="599" width="12.300000000000011" height="0.5" fill="#828282" stroke="#000" stroke-width="1.5"/>
<path d="M192.4,594 V592.4 M188.6,592.4 H196.20000000000002" stroke="#000" stroke-width="1.5" fill="none"/>
<rect x="185.55" y="594" width="13.699999999999989" height="5.5" fill="#000" stroke="#000" stroke-width="1.5"/>
<polygon points="122.40,489.00 122.99,490.29 124.40,490.45 123.35,491.41 123.63,492.80 122.40,492.10 121.17,492.80 121.45,491.41 120.40,490.45 121.81,490.29" fill="#000"/>
<polygon points="127.20,489.00 127.79,490.29 129.20,490.45 128.15,491.41 128.43,492.80 127.20,492.10 125.97,492.80 126.25,491.41 125.20,490.45 126.61,490.29" fill="#000"/>
<polygon points="131.80,489.00 132.39,490.29 133.80,490.45 132.75,491.41 133.03,492.80 131.80,492.10 130.57,492.80 130.85,491.41 129.80,490.45 131.21,490.29" fill="#000"/>
<polygon points="176.80,573.80 177.39,575.09 178.80,575.25 177.75,576.21 178.03,577.60 176.80,576.90 175.57,577.60 175.85,576.21 174.80,575.25 176.21,575.09" fill="#000"/>
<polygon points="181.60,573.80 182.19,575.09 183.60,575.25 182.55,576.21 182.83,577.60 181.60,576.90 180.37,577.60 180.65,576.21 179.60,575.25 181.01,575.09" fill="#000"/>
<polygon points="186.40,573.80 186.99,575.09 188.40,575.25 187.35,576.21 187.63,577.60 186.40,576.90 185.17,577.60 185.45,576.21 184.40,575.25 185.81,575.09" fill="#000"/>
<text transform="translate(17.2,545.9) rotate(-90)" font-size="11.0" text-anchor="middle">Cell number x 10<tspan font-size="7.5" dy="-4">5</tspan></text>
<text x="127" y="627" font-size="11.2" text-anchor="middle" >Days after BMT</text>
<rect x="177.2" y="476.6" width="17.2" height="8.3" fill="#828282" stroke="#000" stroke-width="2.2"/>
<rect x="177.2" y="494.2" width="17.2" height="8.8" fill="#000" stroke="#000" stroke-width="2.2"/>
<text x="198.3" y="483.8" font-size="11.0" text-anchor="start" >WT T cells</text>
<text x="198.3" y="498.9" font-size="11.0" text-anchor="start" >IL-21R KO</text>
<text x="226.7" y="509.6" font-size="11.0" text-anchor="middle" >T cells</text>
<text x="291.9" y="458.9" font-size="17.8" text-anchor="start" style="stroke-width:0.4px">F</text>
<text x="310.0" y="460.0" font-size="11.97" text-anchor="start" >T-reg frequencies 3 weeks post-BMT</text>
<line x1="302.3" y1="481.99999999999994" x2="302.3" y2="601.0" stroke="#000" stroke-width="1.7" />
<line x1="298.3" y1="600.3" x2="302.3" y2="600.3" stroke="#000" stroke-width="1.6" />
<text x="292.8" y="602.9" font-size="9.2" text-anchor="end" >0</text>
<line x1="298.3" y1="570.9" x2="302.3" y2="570.9" stroke="#000" stroke-width="1.6" />
<text x="292.8" y="573.5" font-size="9.2" text-anchor="end" >2</text>
<line x1="298.3" y1="541.5" x2="302.3" y2="541.5" stroke="#000" stroke-width="1.6" />
<text x="292.8" y="544.1" font-size="9.2" text-anchor="end" >4</text>
<line x1="298.3" y1="512.0999999999999" x2="302.3" y2="512.0999999999999" stroke="#000" stroke-width="1.6" />
<text x="292.8" y="514.6999999999999" font-size="9.2" text-anchor="end" >6</text>
<line x1="298.3" y1="482.69999999999993" x2="302.3" y2="482.69999999999993" stroke="#000" stroke-width="1.6" />
<text x="292.8" y="485.29999999999995" font-size="9.2" text-anchor="end" >8</text>
<line x1="298.3" y1="600.3" x2="479.2" y2="600.3" stroke="#000" stroke-width="1.6" />
<line x1="346.9" y1="600.3" x2="346.9" y2="604.8" stroke="#000" stroke-width="1.4" />
<line x1="433.5" y1="600.3" x2="433.5" y2="604.8" stroke="#000" stroke-width="1.4" />
<path d="M324.45,556.4 V541.6 M317.15,541.6 H331.75" stroke="#000" stroke-width="1.7" fill="none"/>
<rect x="310.2" y="557.4" width="28.5" height="42.89999999999998" fill="#828282" stroke="#000" stroke-width="2.1"/>
<path d="M368.8,508.0 V498.9 M361.5,498.9 H376.1" stroke="#000" stroke-width="1.7" fill="none"/>
<rect x="354.6" y="509.0" width="28.399999999999977" height="91.29999999999995" fill="#000" stroke="#000" stroke-width="2.1"/>
<path d="M412.9,580 V574.8 M405.59999999999997,574.8 H420.2" stroke="#000" stroke-width="1.7" fill="none"/>
<rect x="398.4" y="581" width="29.0" height="19.299999999999955" fill="#828282" stroke="#000" stroke-width="2.1"/>
<path d="M457.1,569.8 V565.2 M449.8,565.2 H464.40000000000003" stroke="#000" stroke-width="1.7" fill="none"/>
<rect x="442.4" y="570.8" width="29.400000000000034" height="29.5" fill="#000" stroke="#000" stroke-width="2.1"/>
<path d="M326.3,488.3 V496.6 M326.3,492.6 H369 M369,468.5 V497" stroke="#000" stroke-width="1.8" fill="none"/>
<path d="M369,472.7 H454.2 M454.2,469 V476.5" stroke="#000" stroke-width="1.8" fill="none"/>
<path d="M369,482.6 H410 M410,478.5 V487.2" stroke="#000" stroke-width="1.8" fill="none"/>
<polygon points="345.00,496.40 345.59,497.69 347.00,497.85 345.95,498.81 346.23,500.20 345.00,499.50 343.77,500.20 344.05,498.81 343.00,497.85 344.41,497.69" fill="#000"/>
<polygon points="349.80,496.40 350.39,497.69 351.80,497.85 350.75,498.81 351.03,500.20 349.80,499.50 348.57,500.20 348.85,498.81 347.80,497.85 349.21,497.69" fill="#000"/>
<polygon points="428.20,477.10 428.79,478.39 430.20,478.55 429.15,479.51 429.43,480.90 428.20,480.20 426.97,480.90 427.25,479.51 426.20,478.55 427.61,478.39" fill="#000"/>
<polygon points="432.60,477.10 433.19,478.39 434.60,478.55 433.55,479.51 433.83,480.90 432.60,480.20 431.37,480.90 431.65,479.51 430.60,478.55 432.01,478.39" fill="#000"/>
<polygon points="437.00,477.10 437.59,478.39 439.00,478.55 437.95,479.51 438.23,480.90 437.00,480.20 435.77,480.90 436.05,479.51 435.00,478.55 436.41,478.39" fill="#000"/>
<polygon points="386.40,486.40 386.99,487.69 388.40,487.85 387.35,488.81 387.63,490.20 386.40,489.50 385.17,490.20 385.45,488.81 384.40,487.85 385.81,487.69" fill="#000"/>
<polygon points="390.80,486.40 391.39,487.69 392.80,487.85 391.75,488.81 392.03,490.20 390.80,489.50 389.57,490.20 389.85,488.81 388.80,487.85 390.21,487.69" fill="#000"/>
<polygon points="395.20,486.40 395.79,487.69 397.20,487.85 396.15,488.81 396.43,490.20 395.20,489.50 393.97,490.20 394.25,488.81 393.20,487.85 394.61,487.69" fill="#000"/>
<text transform="translate(278.2,533.5) rotate(-90)" font-size="11.2" text-anchor="middle">T-reg % of donor CD4</text>
<text x="345.3" y="616.2" font-size="11.0" text-anchor="middle" >Unfractionated</text>
<text x="345.5" y="628.8" font-size="11.0" text-anchor="middle" >donor T cells</text>
<text x="436.3" y="616.2" font-size="11.0" text-anchor="middle" >CD25-depleted</text>
<text x="436.0" y="628.8" font-size="11.0" text-anchor="middle" >donor T cells</text>
</svg>
</body></html>
